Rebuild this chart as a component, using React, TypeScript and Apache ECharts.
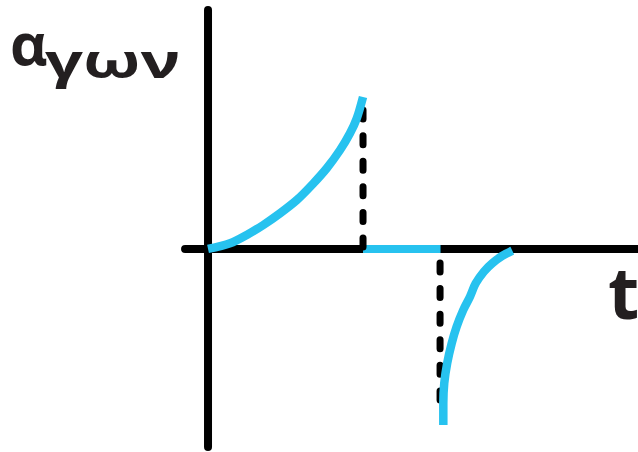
import React, { useEffect, useRef } from "react";
import * as echarts from "echarts";

// Time (t) and acceleration (α) values, in units where the first switch is t = 1 and the peak is α = 1
const riseT = [0, 0.142, 0.25, 0.357, 0.465, 0.573, 0.68, 0.766, 0.852, 0.916, 0.96, 1.0];
const riseA = [0, 0.037, 0.092, 0.158, 0.235, 0.322, 0.432, 0.531, 0.651, 0.761, 0.86, 1.0];
const holdT = [1, 1.5];
const holdA = [0, 0];
const fallT = [1.518, 1.518, 1.524, 1.543, 1.572, 1.604, 1.647, 1.69, 1.727, 1.78, 1.834, 1.898, 1.963];
const fallA = [-1.158, -1.016, -0.884, -0.752, -0.621, -0.511, -0.401, -0.314, -0.226, -0.149, -0.094, -0.046, -0.011];
const guide1T = [1, 1];
const guide1A = [0.914, 0];
const guide2T = [1.497, 1.497];
const guide2A = [-0.092, -1.04];
const axisVT = [0, 0];
const axisVA = [1.572, -1.303];
const axisHT = [-0.148, 2.95];
const axisHA = [0, 0];
const yLabel = ["α", "γων"];
const xLabel = "t";

const pairs = (xs: number[], ys: number[]) => xs.map((x, i) => [x, ys[i]]);

export default function App() {
  const ref = useRef<HTMLDivElement>(null);
  useEffect(() => {
    if (!ref.current) return;
    const chart = echarts.init(ref.current, null, { renderer: "svg" });
    const blue = "#27C2EF";
    const ink = "#231F20";
    const base = { type: "line", symbol: "none", silent: true, animation: false };
    chart.setOption({
      animation: false,
      backgroundColor: "#ffffff",
      grid: { left: 0, right: 0, top: 0, bottom: 0 },
      xAxis: { type: "value", min: -1.342, max: 2.774, show: false },
      yAxis: { type: "value", min: -1.336, max: 1.638, show: false },
      series: [
        { ...base, z: 1, data: pairs(axisVT, axisVA), lineStyle: { color: "#000", width: 8, cap: "round" } },
        { ...base, z: 1, data: pairs(axisHT, axisHA), lineStyle: { color: "#000", width: 8, cap: "round" } },
        { ...base, z: 2, data: pairs(holdT, holdA), lineStyle: { color: blue, width: 8, cap: "butt" } },
        { ...base, z: 3, data: pairs(guide1T, guide1A), lineStyle: { color: "#000", width: 7, cap: "round", type: [9, 16.6] } },
        { ...base, z: 3, data: pairs(guide2T, guide2A), lineStyle: { color: "#000", width: 7, cap: "round", type: [9, 16.6] } },
        { ...base, z: 4, smooth: 0.3, data: pairs(riseT, riseA), lineStyle: { color: blue, width: 8.5, cap: "butt" } },
        { ...base, z: 4, smooth: 0.3, data: pairs(fallT, fallA), lineStyle: { color: blue, width: 8.5, cap: "butt" } },
      ],
      graphic: [
        {
          type: "text", x: 10, y: 13,
          style: { text: yLabel[0], font: "bold 58px 'Open Sans'", fill: ink, align: "left", verticalAlign: "top" },
        },
        {
          type: "text", x: 45, y: 36, scaleX: 1.42,
          style: { text: yLabel[1], font: "bold 47px 'Open Sans'", fill: ink, align: "left", verticalAlign: "top" },
        },
        {
          type: "text", left: 608, top: 255,
          style: { text: xLabel, font: "bold 72px 'Open Sans'", fill: ink },
        },
      ],
    });
    return () => chart.dispose();
  }, []);
  return (
    <div
      ref={ref}
      style={{ position: "fixed", left: 0, top: 0, width: 638, height: 452, background: "#fff" }}
    />
  );
}
